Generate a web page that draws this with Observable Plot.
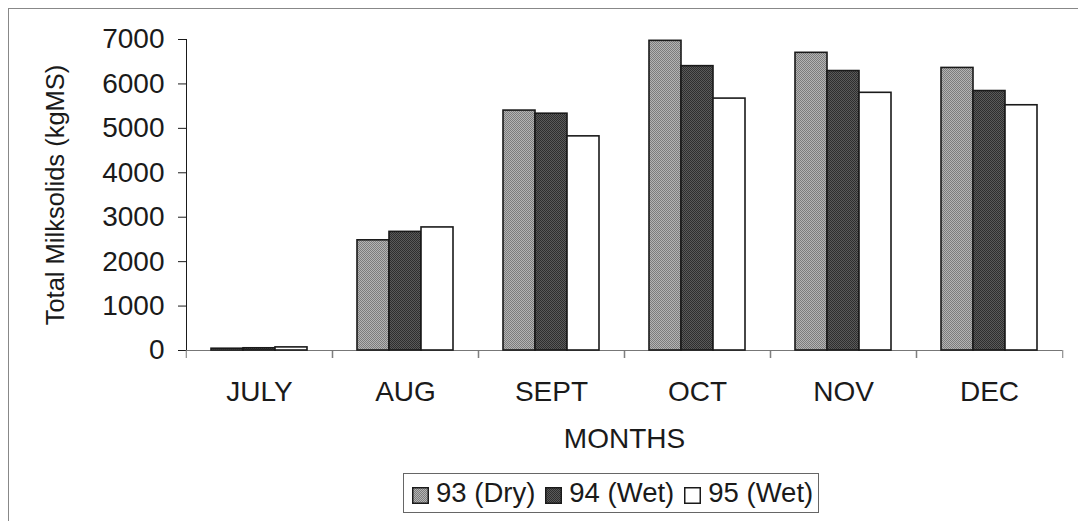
<!DOCTYPE html>
<html>
<head>
<meta charset="utf-8">
<script src="https://cdn.jsdelivr.net/npm/d3@7"></script>
<script src="https://cdn.jsdelivr.net/npm/@observablehq/plot@0.6"></script>
<style>
html, body { margin: 0; padding: 0; background: #fff; }
#wrap { position: relative; width: 1078px; height: 521px; overflow: hidden; font-family: 'Liberation Sans', Arial, sans-serif; }
#border { position: absolute; left: 8px; top: 8px; right: -10px; bottom: -10px; border-left: 1.5px solid #888; border-top: 1.5px solid #888; }
#chart { position: absolute; left: 0; top: 0; }
#legend { position: absolute; left: 403px; top: 473px; width: 414px; height: 38px; border: 1.5px solid #666; display: flex; align-items: center; font-size: 27.5px; color: #1a1a1a; box-sizing: content-box; }
#legend .item { display: flex; align-items: center; margin-left: 8px; }
#legend .item svg { margin-right: 7px; margin-top: 4px; }
#legend .item + .item { margin-left: 10px; }
g[aria-label="y-axis tick label"] text { font-size: 28px; }
g[aria-label="fx-axis tick label"] text { font-size: 28px; }
g[aria-label="fx-axis label"] text { font-size: 28px; }
g[aria-label="y-axis label"] text { font-size: 25.5px; }
</style>
</head>
<body>
<svg width="0" height="0" style="position:absolute">
  <defs>
    <pattern id="p93" width="2" height="2" patternUnits="userSpaceOnUse">
      <rect width="2" height="2" fill="#b4b4b4"/>
      <rect width="1" height="1" fill="#7c7c7c"/>
      <rect x="1" y="1" width="1" height="1" fill="#7c7c7c"/>
    </pattern>
    <pattern id="p94" width="2" height="2" patternUnits="userSpaceOnUse">
      <rect width="2" height="2" fill="#5a5a5a"/>
      <rect width="1" height="1" fill="#2e2e2e"/>
      <rect x="1" y="1" width="1" height="1" fill="#2e2e2e"/>
    </pattern>
  </defs>
</svg>
<div id="wrap">
  <div id="border"></div>
  <div id="chart"></div>
  <div id="legend"></div>
</div>
<script>
const months = ["JULY", "AUG", "SEPT", "OCT", "NOV", "DEC"];
const seriesNames = ["93 (Dry)", "94 (Wet)", "95 (Wet)"];
const s93 = [40, 2480, 5400, 6970, 6700, 6360];
const s94 = [50, 2670, 5330, 6400, 6290, 5840];
const s95 = [70, 2770, 4820, 5670, 5800, 5520];
const yTicks = [0, 1000, 2000, 3000, 4000, 5000, 6000, 7000];
const seriesFills = ["url(#p93)", "url(#p94)", "#ffffff"];

const W = 1078, H = 465, ML = 184, MR = 15, MT = 39, MB = 115;
const bw = (W - ML - MR) / months.length;

const seriesValues = [s93, s94, s95];
const data = months.flatMap((m, i) =>
  seriesValues.map((s, j) => ({ month: m, series: seriesNames[j], value: s[i] }))
);

const chart = Plot.plot({
  width: W,
  height: H,
  marginLeft: ML,
  marginRight: MR,
  marginTop: MT,
  marginBottom: MB,
  style: { fontFamily: "'Liberation Sans', Arial, sans-serif", fontSize: "28px", color: "#1a1a1a", background: "transparent", overflow: "visible" },
  fx: { domain: months, padding: 0 },
  x: { domain: seriesNames, paddingInner: 0, paddingOuter: 0.72, axis: null },
  y: { domain: [0, 7000], ticks: yTicks, tickFormat: "d", tickSize: 8, tickPadding: 14, line: true,
       label: "Total Milksolids (kgMS)", labelAnchor: "center", labelOffset: 141, labelArrow: "none" },
  color: { domain: seriesNames, range: seriesFills },
  marks: [
    Plot.ruleY([0], { stroke: "#777" }),
    Plot.barY(data, { fx: "month", x: "series", y: "value", fill: "series", stroke: "#1a1a1a", strokeWidth: 1.6 }),
    Plot.axisFx({ anchor: "bottom", tickSize: 8, tickFormat: () => "", label: null, dx: -bw / 2, stroke: "#777" }),
    Plot.axisFx({ anchor: "bottom", tickSize: 8, tickFormat: () => "", label: null, dx: bw / 2, stroke: "#777" }),
    Plot.axisFx({ anchor: "bottom", tickSize: 0, tickPadding: 31, label: "MONTHS", labelAnchor: "center", labelOffset: 97, labelArrow: "none" })
  ]
});
document.getElementById("chart").appendChild(chart);

const legend = document.getElementById("legend");
seriesNames.forEach((name, j) => {
  const item = document.createElement("div");
  item.className = "item";
  item.innerHTML = `<svg width="17" height="17"><rect x="0.75" y="0.75" width="15.5" height="15.5" fill="${seriesFills[j]}" stroke="#1a1a1a" stroke-width="1.5"/></svg><span>${name}</span>`;
  legend.appendChild(item);
});
</script>
</body>
</html>
